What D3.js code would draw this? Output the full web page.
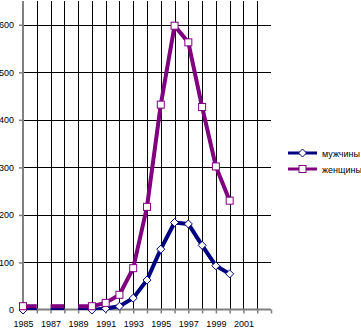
<!DOCTYPE html>
<html>
<head>
<meta charset="utf-8">
<script src="https://cdn.jsdelivr.net/npm/d3@7"></script>
<style>
  body { margin: 0; background: #fff; }
  svg { display: block; }
  text { font-family: "Liberation Sans", Arial, sans-serif; }
</style>
</head>
<body>
<div id="chart"></div>
<script>
// categories on the x axis (last one has no label)
var years = [1985, 1986, 1987, 1988, 1989, 1990, 1991, 1992, 1993, 1994,
             1995, 1996, 1997, 1998, 1999, 2000, 2001, 2002, 2003];
var xLabels = [1985, 1987, 1989, 1991, 1993, 1995, 1997, 1999, 2001];
var yTicks = [0, 100, 200, 300, 400, 500, 600];

// series, 1985..2000
var seriesYears = [1985, 1986, 1987, 1988, 1989, 1990, 1991, 1992,
                   1993, 1994, 1995, 1996, 1997, 1998, 1999, 2000];
var men   = [0, 0, 0, 0, 0, 0, 3, 8, 25, 63, 128, 184, 181, 136, 93, 76];
var women = [8, 8, 8, 8, 8, 8, 15, 32, 88, 217, 432, 598, 563, 427, 302, 230];
var names = ["мужчины", "женщины"];

// no line drawn from these years to the next one, and no markers here
var gaps = [1986, 1988];
var noMarker = [1986, 1987, 1988, 1989];

var w = 361, h = 328;
var plotLeft = 23, plotRight = 271, plotTop = 1, plotBottom = 310;

var svg = d3.select("#chart").append("svg")
    .attr("width", w)
    .attr("height", h);

var x = d3.scalePoint()
    .domain(years)
    .range([plotLeft, plotRight]);

var y = d3.scaleLinear()
    .domain([0, 650])
    .range([plotBottom, plotTop]);

function px(v) { return Math.round(v) + 0.5; }

// gridlines
svg.append("g").selectAll("line")
    .data(years.slice(1, years.length - 1))
    .enter()
    .append("line")
    .attr("x1", function(d) { return px(x(d)); })
    .attr("x2", function(d) { return px(x(d)); })
    .attr("y1", y(650))
    .attr("y2", plotBottom)
    .attr("stroke", "#000")
    .attr("stroke-width", 1);

svg.append("g").selectAll("line")
    .data(yTicks.slice(1))
    .enter()
    .append("line")
    .attr("x1", plotLeft)
    .attr("x2", plotRight)
    .attr("y1", function(d) { return px(y(d)); })
    .attr("y2", function(d) { return px(y(d)); })
    .attr("stroke", "#000")
    .attr("stroke-width", 1);

// axes
var gy = svg.append("g")
    .attr("transform", "translate(" + plotLeft + ",0)")
    .call(d3.axisLeft(y).tickValues(yTicks).tickSize(4).tickPadding(5));
var gx = svg.append("g")
    .attr("transform", "translate(0," + (plotBottom - 0.5) + ")")
    .call(d3.axisBottom(x).tickSize(4).tickPadding(7)
        .tickFormat(function(d) { return xLabels.indexOf(d) >= 0 ? d : ""; }));

[gx, gy].forEach(function(g) {
    g.select(".domain").attr("stroke", "#808080").attr("stroke-width", 2);
    g.selectAll(".tick line").attr("stroke", "#808080").attr("stroke-width", 1.5);
    g.selectAll(".tick text")
        .attr("fill", "#000")
        .attr("font-size", "9px")
        .attr("font-family", "Liberation Sans, Arial, sans-serif");
});
gy.select(".domain").attr("d", "M0," + y(650) + "V" + plotBottom);
gx.select(".domain").attr("d", "M" + plotLeft + ",0H" + plotRight);

// lines, clipped to the plot area
svg.append("clipPath").attr("id", "plot")
    .append("rect")
    .attr("x", plotLeft).attr("y", 0)
    .attr("width", plotRight - plotLeft).attr("height", plotBottom);

var line = d3.line()
    .x(function(d) { return x(d.year); })
    .y(function(d) { return y(d.v); });

function segments(vals) {
    var segs = [], cur = [];
    seriesYears.forEach(function(yr, i) {
        cur.push({ year: yr, v: vals[i] });
        if (gaps.indexOf(yr) >= 0) {
            segs.push(cur);
            cur = [];
        }
    });
    segs.push(cur);
    return segs.filter(function(s) { return s.length > 1; });
}

var series = [
    { name: names[0], vals: men, color: "#000080", marker: "diamond" },
    { name: names[1], vals: women, color: "#800080", marker: "square" }
];

function marker(g, type, color, cx, cy) {
    if (type == "diamond") {
        g.append("path")
            .attr("d", "M" + cx + "," + (cy - 4) + "L" + (cx + 4) + "," + cy +
                  "L" + cx + "," + (cy + 4) + "L" + (cx - 4) + "," + cy + "Z")
            .attr("fill", "#fff")
            .attr("stroke", color)
            .attr("stroke-width", 1);
    } else {
        g.append("rect")
            .attr("x", cx - 3.5).attr("y", cy - 3.5)
            .attr("width", 7).attr("height", 7)
            .attr("fill", "#fff")
            .attr("stroke", color)
            .attr("stroke-width", 1);
    }
}

series.forEach(function(s) {
    svg.append("g").attr("clip-path", "url(#plot)")
        .selectAll("path")
        .data(segments(s.vals))
        .enter()
        .append("path")
        .attr("d", line)
        .attr("fill", "none")
        .attr("stroke", s.color)
        .attr("stroke-width", 4)
        .attr("stroke-linejoin", "round");
});

series.forEach(function(s) {
    var g = svg.append("g");
    seriesYears.forEach(function(yr, i) {
        if (noMarker.indexOf(yr) >= 0) return;
        marker(g, s.marker, s.color, x(yr), y(s.vals[i]));
    });
});

// legend
series.forEach(function(s, i) {
    var ly = 153 + i * 16;
    var g = svg.append("g");
    g.append("line")
        .attr("x1", 288).attr("x2", 317)
        .attr("y1", ly).attr("y2", ly)
        .attr("stroke", s.color)
        .attr("stroke-width", 3);
    marker(g, s.marker, s.color, 302.5, ly);
    g.append("text")
        .attr("x", 322)
        .attr("y", ly + 3.5)
        .attr("font-size", "9px")
        .attr("fill", "#000")
        .text(s.name);
});
</script>
</body>
</html>
